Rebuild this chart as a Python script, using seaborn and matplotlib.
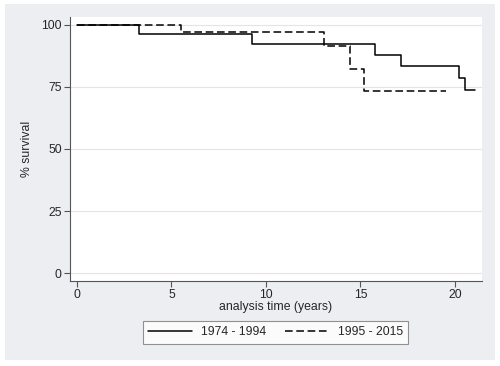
import pandas as pd
import matplotlib.pyplot as plt
import seaborn as sns
from matplotlib.patches import Rectangle

# --- datos: curvas de Kaplan-Meier ---
t_1974 = [0, 3.3, 9.24, 15.77, 17.14, 20.23, 20.53, 21.06]
s_1974 = [100, 96.2, 92.2, 87.9, 83.5, 78.6, 73.7, 73.7]
t_1995 = [0, 5.49, 13.07, 14.44, 15.19, 19.5]
s_1995 = [100, 96.9, 91.3, 82.1, 73.4, 73.4]
grupos = ["1974 - 1994", "1995 - 2015"]

df = pd.concat([
    pd.DataFrame({"t": t_1974, "s": s_1974, "grupo": grupos[0]}),
    pd.DataFrame({"t": t_1995, "s": s_1995, "grupo": grupos[1]}),
])

sns.set_style("white")
plt.rcParams["font.family"] = ["Liberation Sans", "DejaVu Sans"]
fs = 8.8

fig = plt.figure(figsize=(5, 3.66), dpi=100)
fig.patch.set_facecolor("white")
fondo = Rectangle((5 / 500, 6 / 366), 490 / 500, 356 / 366,
                  transform=fig.transFigure, facecolor="#eceef1",
                  edgecolor="none", zorder=-10)
fig.patches.append(fondo)
ax = fig.add_axes([0.14, 0.232, 0.824, 0.722])
ax.set_zorder(1)
ax.set_facecolor("white")

estilos = {grupos[0]: "-", grupos[1]: (0, (5, 2.4))}
for g in grupos:
    sub = df[df["grupo"] == g]
    sns.lineplot(data=sub, x="t", y="s", ax=ax, color="black", lw=1.1,
                 drawstyle="steps-post", label=g, linestyle=estilos[g],
                 estimator=None)

ax.set_xlim(-0.37, 21.43)
ax.set_ylim(-3.2, 103.2)
ax.set_xticks([0, 5, 10, 15, 20])
ax.set_yticks([0, 25, 50, 75, 100])
ax.grid(axis="y", color="#e4e4e4", lw=0.8)
ax.set_axisbelow(True)
for lado in ["top", "right"]:
    ax.spines[lado].set_visible(False)
for lado in ["left", "bottom"]:
    ax.spines[lado].set_color("#555555")
    ax.spines[lado].set_linewidth(0.8)
ax.tick_params(axis="both", direction="out", length=4, width=0.8,
               color="#555555", labelsize=fs, pad=2, left=True, bottom=True)
ax.set_xlabel("analysis time (years)", fontsize=fs, labelpad=0)
ax.set_ylabel("% survival", fontsize=fs, labelpad=6)

ax.get_legend().remove()
h, l = ax.get_legend_handles_labels()
leg = fig.legend(h, l, loc="center", bbox_to_anchor=(0.551, 0.092), ncol=2,
                 fontsize=fs, frameon=True, fancybox=False, handlelength=3.6,
                 columnspacing=1.6, borderpad=0.45, handletextpad=0.7)
leg.get_frame().set_edgecolor("#777777")
leg.get_frame().set_linewidth(0.8)

plt.savefig("out.png", dpi=100, facecolor=fig.get_facecolor())
